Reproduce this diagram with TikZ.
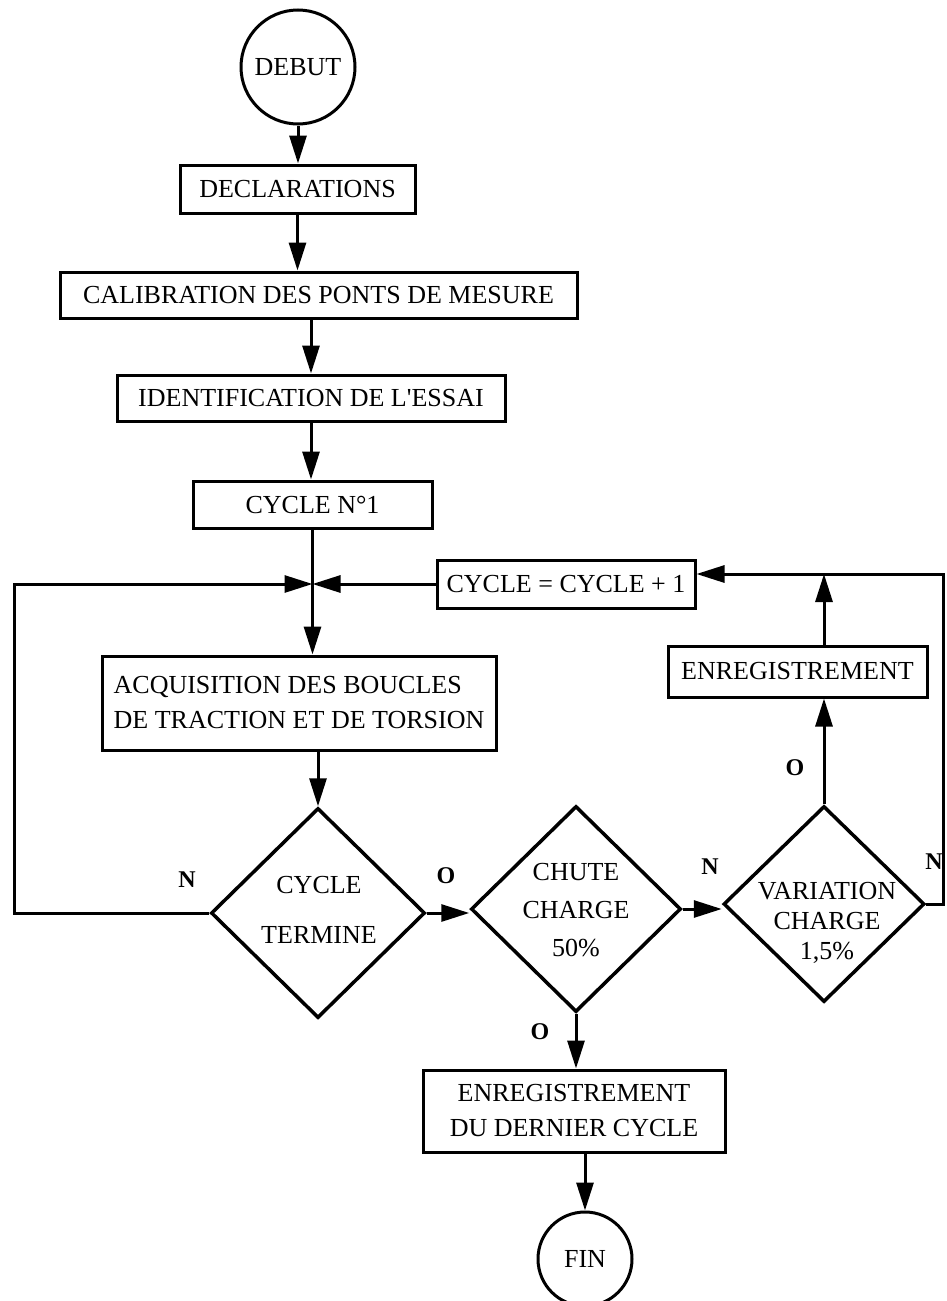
\documentclass[tikz,border=0pt]{standalone}
\usepackage{fontspec}
\setmainfont{Liberation Serif}
\usetikzlibrary{shapes.geometric,arrows.meta,calc}
\begin{document}
\begin{tikzpicture}[x=1pt,y=-1pt,
  line width=3pt,
  every node/.style={font=\fontsize{26pt}{32pt}\selectfont, inner sep=0pt},
  box/.style={draw, rectangle, line width=3pt, align=center},
  term/.style={draw, circle, line width=3pt},
  dia/.style={draw, diamond, line width=3.5pt},
  dtext/.style={align=center},
  arr/.style={-{Triangle[length=28pt,width=17pt]}},
  lab/.style={font=\fontsize{24pt}{26pt}\selectfont\bfseries}]
\useasboundingbox (0,0) rectangle (947,1301);

% nodes
\node[term, minimum size=114pt] (debut) at (298,67) {DEBUT};
\node[box, minimum width=235pt, minimum height=48pt] (decl) at (297.5,189) {DECLARATIONS};
\node[box, minimum width=517pt, minimum height=46pt] (calib) at (318.5,295) {CALIBRATION DES PONTS DE MESURE};
\node[box, minimum width=388pt, minimum height=46pt] (ident) at (311,398) {IDENTIFICATION DE L\textquotesingle ESSAI};
\node[box, minimum width=239pt, minimum height=47pt] (cycle1) at (312.5,504.5) {CYCLE N°1};
\coordinate (J) at (312.5,584);
\node[box, minimum width=258pt, minimum height=48pt] (cplus) at (566,584) {CYCLE = CYCLE + 1};
\node[box, minimum width=394pt, minimum height=94pt, align=left, font=\fontsize{26pt}{35pt}\selectfont] (acq) at (299,703) {ACQUISITION DES BOUCLES\\DE TRACTION ET DE TORSION};
\node[box, minimum width=259pt, minimum height=51pt] (enreg) at (797.5,671.5) {ENREGISTREMENT};

\node[dia, minimum width=214pt, minimum height=210pt] (termine) at (318,913) {};
\node[dtext, font=\fontsize{26pt}{50pt}\selectfont] (termtxt) at (319,910) {CYCLE\\TERMINE};
\node[dia, minimum width=210pt, minimum height=206pt] (chute) at (576,909) {};
\node[dtext, font=\fontsize{26pt}{38pt}\selectfont] (chutetxt) at (576,910) {CHUTE\\CHARGE\\50\%};
\node[dia, minimum width=201pt, minimum height=196pt] (var) at (824,904) {};
\node[dtext, font=\fontsize{26pt}{30pt}\selectfont] (vartxt) at (827,923) {VARIATION\\CHARGE\\1,5\%};

\node[box, minimum width=302pt, minimum height=82pt, font=\fontsize{26pt}{35pt}\selectfont] (enreg2) at (574,1111) {ENREGISTREMENT\\DU DERNIER CYCLE};
\node[term, minimum size=94pt] (fin) at (585,1259) {FIN};

% labels
\node[lab] (nleft) at (187,880) {N};
\node[lab] (oterm) at (446,876) {O};
\node[lab] (nchute) at (710,867) {N};
\node[lab] (nvar) at (934,862) {N};
\node[lab] (ovar) at (795,768) {O};
\node[lab] (ochute) at (540,1032) {O};

% helper coordinates
\coordinate (Lt) at (14,584);
\coordinate (Lb) at (14,913);
\coordinate (Rt) at (943,574);
\coordinate (Rb) at (943,904);

% connectors
\draw[arr] (debut.south) -- (debut.south |- decl.north);
\draw[arr] (decl.south) -- (decl.south |- calib.north);
\draw[arr] (ident.north |- calib.south) -- (ident.north);
\draw[arr] (ident.south) -- (ident.south |- cycle1.north);
\draw (cycle1.south) -- (J);
\draw[arr] (J) -- (J |- acq.north);
\draw[arr] (cplus.west) -- (J);
\draw[arr] (termine.west) -- (Lb) -- (Lt) -- (J);
\draw[arr] (termine.north |- acq.south) -- (termine.north);
\draw[arr] (termine.east) -- (termine.east -| chute.west);
\draw[arr] (chute.east) -- (chute.east -| var.west);
\draw[arr] (var.north) -- (var.north |- enreg.south);
\draw[arr] (var.north |- enreg.north) -- (var.north |- Rt);
\draw[arr] (var.east) -- (Rb) -- (Rt) -- (Rt -| cplus.east);
\draw[arr] (chute.south) -- (chute.south |- enreg2.north);
\draw[arr] (fin.north |- enreg2.south) -- (fin.north);
\end{tikzpicture}
\end{document}
